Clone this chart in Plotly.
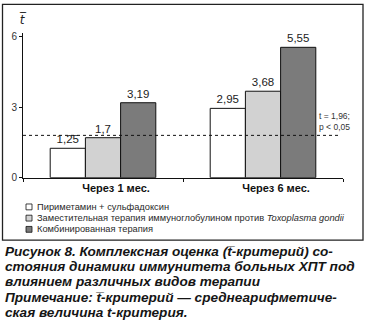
import plotly.graph_objects as go

categories = ["Через 1 мес.", "Через 6 мес."]
series_names = [
    "Пириметамин + сульфадоксин",
    "Заместительная терапия иммуноглобулином против <i>Toxoplasma gondii</i>",
    "Комбинированная терапия",
]
pyrimethamine = [1.25, 2.95]
immunoglobulin = [1.7, 3.68]
combined = [3.19, 5.55]
threshold = 1.8
y_ticks = [0, 3, 6]

colors = ["#ffffff", "#d2d2d2", "#7b7b7b"]
series_values = [pyrimethamine, immunoglobulin, combined]

W, H = 367, 330
def px(x):
    return x / W
def py(y):
    return 1 - y / H

fig = go.Figure()
for name, vals, col in zip(series_names, series_values, colors):
    fig.add_trace(go.Bar(
        x=categories, y=vals, name=name,
        marker=dict(color=col, line=dict(color="#111", width=1)),
        text=[str(v).replace(".", ",") for v in vals],
        textposition="outside", cliponaxis=False,
        textfont=dict(family="Liberation Sans, Arial", size=11.5, color="#222"),
        showlegend=False,
    ))

# threshold dotted line
fig.add_shape(type="line", xref="paper", yref="y",
              x0=px(23), x1=px(339), y0=threshold, y1=threshold,
              line=dict(color="#111", width=1, dash="dot"))

# frame
fig.add_shape(type="rect", xref="paper", yref="paper",
              x0=px(2.5), x1=px(363), y0=py(2.5), y1=py(244),
              line=dict(color="#222", width=1.3))

ann = []
ann.append(dict(text="<i>t\u0305</i>", x=px(23), y=py(18), xref="paper", yref="paper",
                showarrow=False, xanchor="center", yanchor="middle",
                font=dict(family="DejaVu Sans, Liberation Sans", size=12, color="#222")))
ann.append(dict(text="t = 1,96;<br>p < 0,05", x=px(317), y=py(122), xref="paper", yref="paper",
                showarrow=False, xanchor="left", yanchor="middle", align="left",
                font=dict(family="Liberation Sans, Arial", size=8.5, color="#333")))

# legend (manual)
leg_y = [210, 221.5, 233]
for name, col, yy in zip(series_names, colors, leg_y):
    fig.add_shape(type="rect", xref="paper", yref="paper",
                  x0=px(26), x1=px(32), y0=py(yy - 3), y1=py(yy + 3),
                  fillcolor=col, line=dict(color="#111", width=0.8))
    ann.append(dict(text=name, x=px(35), y=py(yy), xref="paper", yref="paper",
                    showarrow=False, xanchor="left", yanchor="middle",
                    font=dict(family="Liberation Sans, Arial", size=9.3, color="#2a2a2a")))

caption = [
    ("Рисунок 8. Комплексная оценка (t\u0305-критерий) со-", 256),
    ("стояния динамики иммунитета больных ХПТ под", 271),
    ("влиянием различных видов терапии", 286),
    ("Примечание: t\u0305-критерий — среднеарифметиче-", 303),
    ("ская величина t-критерия.", 318),
]
for txt, yy in caption:
    ann.append(dict(text="<b><i>" + txt + "</i></b>", x=px(3), y=py(yy), xref="paper", yref="paper",
                    showarrow=False, xanchor="left", yanchor="middle",
                    font=dict(family="Liberation Sans, Arial", size=13.6, color="#151515")))

fig.update_layout(
    width=W, height=H, margin=dict(l=0, r=0, t=0, b=0),
    paper_bgcolor="white", plot_bgcolor="white",
    barmode="group", bargap=0.34, bargroupgap=0,
    annotations=ann,
    xaxis=dict(domain=[px(23), px(343)], showgrid=False, showline=True,
               linecolor="#111", linewidth=1, ticks="outside", ticklen=3,
               tickcolor="#111", tickson="boundaries", ticklabelshift=13,
               tickfont=dict(family="Liberation Sans, Arial", size=11, color="#111"),
               ticklabelstandoff=0),
    yaxis=dict(domain=[py(180), py(32)], range=[0, 6.15], showgrid=False,
               zeroline=False, showline=True, linecolor="#111", linewidth=1,
               ticks="outside", ticklen=3, tickcolor="#111", tickvals=y_ticks,
               tickfont=dict(family="Liberation Sans, Arial", size=10, color="#333")),
    font=dict(family="Liberation Sans, Arial"),
)
# bold category labels
fig.update_xaxes(ticktext=["<b>" + c + "</b>" for c in categories], tickvals=categories)

fig.write_html("out.html")
